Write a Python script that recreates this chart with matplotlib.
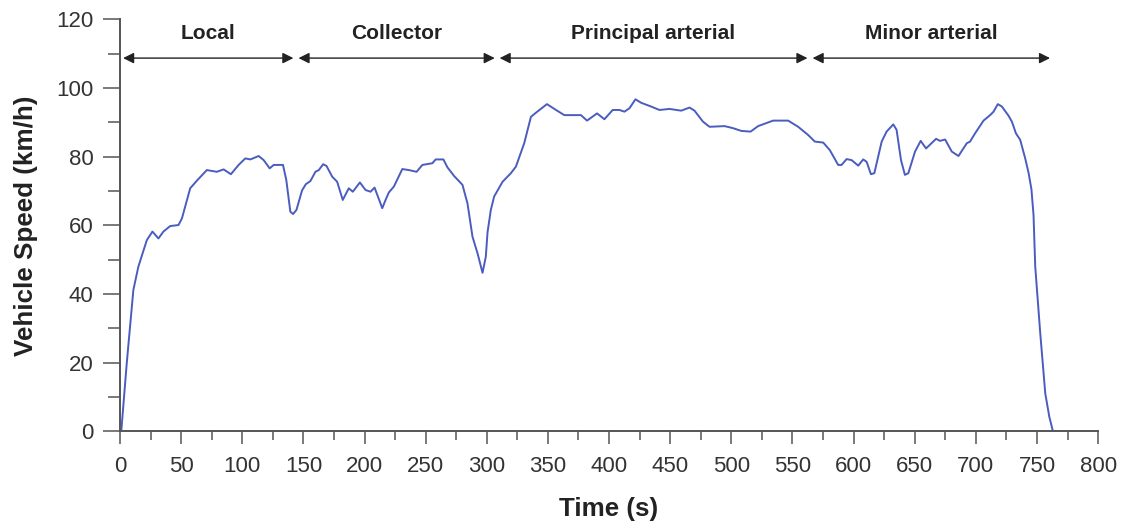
import matplotlib.pyplot as plt
import numpy as np
from matplotlib.ticker import MultipleLocator

plt.rcParams['font.family'] = ['Liberation Sans', 'DejaVu Sans']

# speed trace (time in s, speed in km/h)
time_s = [1, 5.5, 10.9, 15, 21.9, 26.5, 31.4, 35.5, 41, 47.8, 50.6, 57.4, 62.8, 71,
          79.2, 84.7, 90.7, 97, 102.5, 106.6, 113.4, 117.5, 122.4, 125.7, 133.3, 136,
          139.3, 141.5, 144.3, 148.9, 152, 155.7, 159.8, 162.6, 166.1, 168.9, 173.5,
          177.6, 182.2, 184.4, 187.1, 190.4, 196.2, 200.8, 204.9, 208.2, 210.9, 214.5,
          217.2, 219.9, 224, 230.9, 236.3, 242.6, 247.3, 255.5, 258.2, 264.5, 267.8,
          273.2, 280.1, 284.2, 288.3, 292.4, 296.5, 299.2, 300.6, 303.3, 306, 312.9,
          319.7, 323.8, 330.6, 336.1, 340.2, 349.2, 356.6, 363.4, 368.9, 377, 382,
          390.2, 396.2, 403, 408.5, 412.6, 416.7, 421.6, 426.2, 434.4, 441.2, 449.4,
          459, 465.8, 469.9, 476.8, 482.2, 494.5, 501.4, 508.2, 515.8, 521.9, 534.2,
          546.5, 554.7, 562.9, 568.3, 575.2, 580.6, 587.4, 590.2, 594.3, 598.4, 603.8,
          607.9, 610.7, 614.2, 617, 623, 627, 632.5, 635.2, 638.8, 642, 644.8, 650.3,
          654.9, 659.3, 667.5, 670.7, 674.9, 680.3, 685.8, 692.6, 695.3, 699.4, 706.3,
          711.7, 714.5, 718, 721.3, 726.8, 729.5, 732.8, 736.3, 740.4, 743.2, 745.5,
          747.2, 748.6, 752.7, 756.8, 760.1, 763.1]
speed_kmh = [0, 19.9, 41.2, 48, 55.7, 58.2, 56.2, 58.2, 59.8, 60.1, 62, 70.8, 73, 76.1,
             75.6, 76.3, 74.9, 77.6, 79.5, 79.2, 80.2, 79, 76.6, 77.6, 77.6, 73.2,
             64, 63.3, 64.5, 70.2, 72, 72.9, 75.6, 76.1, 77.8, 77.3, 74.2,
             72.7, 67.4, 68.9, 70.8, 69.8, 72.5, 70.3, 69.8, 71, 68.4, 65,
             67.4, 69.6, 71.3, 76.4, 76.1, 75.6, 77.6, 78.1, 79.2, 79.2, 76.9,
             74.4, 71.8, 66.4, 56.7, 51.9, 46.2, 50.9, 58, 64.5, 68.4, 72.7,
             75.2, 77.1, 83.9, 91.6, 92.8, 95.3, 93.6, 92.1, 92.1, 92.1, 90.5,
             92.6, 90.9, 93.6, 93.6, 93.1, 94.1, 96.7, 95.7, 94.6, 93.6, 93.9,
             93.4, 94.3, 93.4, 90.2, 88.7, 88.9, 88.3, 87.5, 87.3, 88.9, 90.5,
             90.5, 88.7, 86.3, 84.4, 84.1, 81.9, 77.6, 77.6, 79.3, 79, 77.4,
             79.2, 78.5, 74.9, 75.2, 84.4, 87.3, 89.4, 87.8, 79, 74.7, 75.2, 81.5,
             84.6, 82.4, 85.2, 84.6, 85, 81.5, 80.2, 83.9, 84.4, 86.8, 90.5,
             92.1, 93.1, 95.3, 94.6, 91.9, 90.2, 86.8, 84.9, 79.5, 75.2, 70.5,
             63, 48, 28.6, 11.1, 4.3, 0]

road_types = ['Local', 'Collector', 'Principal arterial', 'Minor arterial']
seg_start = [2.5, 146, 310.5, 566.5]
seg_end = [141.8, 306.5, 562.3, 760.7]

fig = plt.figure(figsize=(11.26, 5.21), dpi=100)
ax = fig.add_axes([0.1066, 0.1718, 0.8686, 0.7912])

ax.plot(time_s, speed_kmh, color='#4a5cbf', lw=1.4)

ax.set_xlim(0, 800)
ax.set_ylim(0, 120)
ax.xaxis.set_major_locator(MultipleLocator(50))
ax.xaxis.set_minor_locator(MultipleLocator(25))
ax.yaxis.set_major_locator(MultipleLocator(20))
ax.yaxis.set_minor_locator(MultipleLocator(10))

for s in ['top', 'right']:
    ax.spines[s].set_visible(False)
for s in ['left', 'bottom']:
    ax.spines[s].set_color('#555555')
    ax.spines[s].set_linewidth(1.4)

ax.tick_params(axis='x', which='major', length=9.5, width=1.1, color='#555555',
               labelsize=16, labelcolor='#333333', pad=8)
ax.tick_params(axis='x', which='minor', length=6.5, width=1.1, color='#555555')
ax.tick_params(axis='y', which='major', length=12, width=1.1, color='#555555',
               labelsize=16, labelcolor='#333333', pad=7)
ax.tick_params(axis='y', which='minor', length=8.5, width=1.1, color='#555555')

ax.set_xlabel('Time (s)', fontsize=18.7, fontweight='bold', color='#222222')
ax.set_ylabel('Vehicle Speed (km/h)', fontsize=18.7, fontweight='bold', color='#222222')
ax.xaxis.set_label_coords(0.5, -0.16)
ax.yaxis.set_label_coords(-0.084, 0.5)

# road type segments
for name, a, b in zip(road_types, seg_start, seg_end):
    ax.annotate('', xy=(a, 108.7), xytext=(b, 108.7),
                arrowprops=dict(arrowstyle='<|-|>', color='#222222', lw=1.0,
                                mutation_scale=16, shrinkA=0, shrinkB=0),
                annotation_clip=False)
    ax.text((a + b) / 2, 115.8, name, ha='center', va='center', fontsize=15,
            fontweight='bold', color='#222222')

fig.savefig('out.png', dpi=100)
